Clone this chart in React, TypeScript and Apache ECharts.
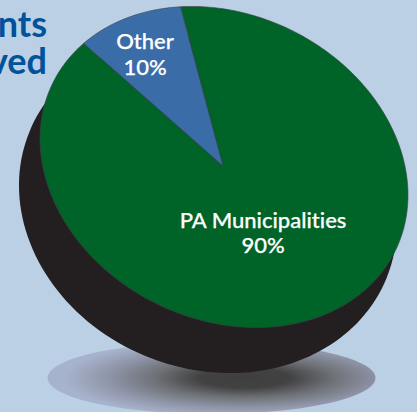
import React, { useEffect, useRef } from "react";
import * as echarts from "echarts";

const categories = ["PA Municipalities", "Other"];
const values = [90, 10];
const percentLabels = ["90%", "10%"];
const sliceColors = ["#006328", "#3a6ca8"];
const titleFragments = ["nts", "ved"];

const W = 417;
const H = 412;
const CX = 224;
const CY = 167;
const RA = 190.7;
const RB = 152.5;
const TILT = (26 * Math.PI) / 180;
const START = (-125 * Math.PI) / 180;

const ellipsePoint = (t: number, cx = CX, cy = CY): number[] => {
  const u = RA * Math.cos(t);
  const v = RB * Math.sin(t);
  return [cx + u * Math.cos(TILT) - v * Math.sin(TILT), cy + u * Math.sin(TILT) + v * Math.cos(TILT)];
};

const total = values.reduce((a, b) => a + b, 0);
const labelPositions = [
  [263, 232],
  [145, 53.5],
];

const renderSlice = (params: any, api: any) => {
  const i = params.dataIndex;
  const before = values.slice(0, i).reduce((a, b) => a + b, 0);
  const v = api.value(0) as number;
  const a0 = START + (before / total) * Math.PI * 2;
  const a1 = a0 + (v / total) * Math.PI * 2;
  const pts: number[][] = [[CX - 1, CY - 1]];
  const n = Math.max(24, Math.round((v / total) * 360));
  for (let k = 0; k <= n; k++) pts.push(ellipsePoint(a0 + ((a1 - a0) * k) / n));
  const [lx, ly] = labelPositions[i];
  return {
    type: "group",
    children: [
      { type: "polygon", shape: { points: pts }, style: { fill: sliceColors[i], stroke: "#3c4048", lineWidth: 0.6 } },
      {
        type: "text",
        x: lx,
        y: ly,
        z2: 10,
        style: {
          text: categories[i] + "\n" + percentLabels[i],
          fill: "#ffffff",
          stroke: "#ffffff",
          lineWidth: 0.25,
          fontFamily: "Lato, sans-serif",
          fontWeight: 500,
          fontSize: 22,
          lineHeight: 25.5,
          align: "center",
          verticalAlign: "middle",
        },
      },
    ],
  };
};

export default function App() {
  const ref = useRef<HTMLDivElement>(null);
  useEffect(() => {
    document.body.style.margin = "0";
    const chart = echarts.init(ref.current!, undefined, { renderer: "svg" });
    chart.setOption({
      animation: false,
      backgroundColor: "#bbd0e5",
      graphic: [
        {
          type: "ellipse",
          z: 0,
          shape: { cx: 211.5, cy: 378, rx: 164, ry: 36 },
          style: {
            fill: {
              type: "radial",
              x: 0.6,
              y: 0.5,
              r: 0.55,
              colorStops: [
                { offset: 0, color: "#3f3f3f" },
                { offset: 0.25, color: "#424243" },
                { offset: 0.5, color: "#6f7277" },
                { offset: 0.75, color: "#8f95a8" },
                { offset: 1, color: "#a7b2cc" },
              ],
            },
          },
        },
        {
          type: "ellipse",
          z: 1,
          x: 208,
          y: 205,
          rotation: -(22.3 * Math.PI) / 180,
          shape: { cx: 0, cy: 0, rx: 193, ry: 163.4 },
          style: { fill: "#231f20" },
        },
        {
          type: "text",
          z: 3,
          x: 47,
          y: 41.5,
          style: {
            text: titleFragments.join("\n"),
            fill: "#00529b",
            fontFamily: "Lato, sans-serif",
            fontWeight: 700,
            fontSize: 36,
            lineHeight: 37,
            align: "right",
            verticalAlign: "middle",
          },
        },
      ],
      series: [
        {
          type: "custom",
          coordinateSystem: "none",
          renderItem: renderSlice,
          data: values.map((v, i) => ({ name: categories[i], value: [v] })),
          z: 2,
          silent: true,
        },
      ],
    });
    return () => chart.dispose();
  }, []);
  return <div ref={ref} style={{ width: W, height: H, fontVariantLigatures: "none" }} />;
}
